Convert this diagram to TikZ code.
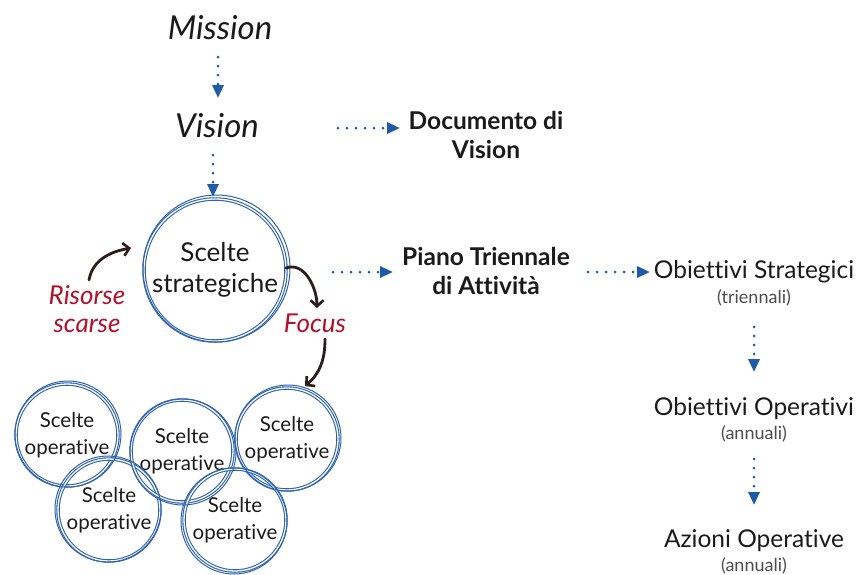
\documentclass[tikz,border=0pt]{standalone}
\usepackage{fontspec}
\setmainfont{Lato}[Ligatures=CommonOff]
\usetikzlibrary{arrows.meta}
\definecolor{cblue}{HTML}{1F5AA6}
\definecolor{cring}{HTML}{2E63AC}
\definecolor{cred}{HTML}{B3102A}
\definecolor{cdark}{HTML}{2B1E1C}
\definecolor{ctext}{HTML}{1A1A1A}
\tikzset{
  darr/.style={cblue, line width=3pt, line cap=round, dash pattern=on 0pt off 9pt,
    -{Triangle[length=13pt,width=11pt]}},
  harr/.style={cdark, line width=2.8pt, line cap=round, -{Straight Barb[length=6pt,width=13pt,line width=2.6pt]}},
  lbl/.style={inner sep=0pt, align=center, text=ctext},
  big/.style={lbl, font=\fontsize{33}{36}\selectfont\itshape},
  bold/.style={lbl, font=\fontsize{24.5}{29}\selectfont\bfseries},
  reg/.style={lbl, font=\fontsize{24.5}{28}\selectfont},
  small/.style={lbl, font=\fontsize{18}{20}\selectfont, text=black!70},
  redt/.style={lbl, text=cred, font=\fontsize{26}{28}\selectfont\itshape},
  ring/.style={circle, draw=cring, line width=1.1pt, double=white, double distance=1.3pt, align=center, inner sep=0pt, text=ctext},
}
\begin{document}
\begin{tikzpicture}[x=1pt,y=-1pt]
\useasboundingbox (0,0) rectangle (859,574);

% top column
\node[big] (mission) at (220,28) {Mission};
\node[big] (vision) at (217,126) {Vision};

% strategic circle
\node[ring, minimum size=142pt, font=\fontsize{26}{31}\selectfont] (strat) at (215,270) {Scelte\\strategiche};
\draw[cring, line width=1pt] (216.5,268.5) circle (73.5);

\coordinate (m1) at (218,57);
\coordinate (v0) at (218,98);
\draw[darr] (m1) -- (v0);
\coordinate (v1) at (213,155);
\coordinate (s0) at (213,197);
\draw[darr] (v1) -- (s0);

% right side texts
\node[bold] (doc) at (486,135) {Documento di\\Vision};
\node[bold] (piano) at (486,271) {Piano Triennale\\di Attività};
\node[reg] (ostr) at (754,272) {Obiettivi Strategici};
\node[small] (ostrs) at (754,298) {(triennali)};
\node[reg] (oop) at (754,409) {Obiettivi Operativi};
\node[small] (oops) at (754,434) {(annuali)};
\node[reg] (az) at (754,541) {Azioni Operative};
\node[small] (azs) at (754,566) {(annuali)};

\coordinate (d0) at (338,128);
\coordinate (d1) at (400,128);
\draw[darr] (d0) -- (d1);
\coordinate (p0) at (333,272);
\coordinate (p1) at (393,272);
\draw[darr] (p0) -- (p1);
\coordinate (o0) at (588,272);
\coordinate (o1) at (650,272);
\draw[darr] (o0) -- (o1);
\coordinate (t0) at (754,327);
\coordinate (t1) at (754,372);
\draw[darr] (t0) -- (t1);
\coordinate (u0) at (754,459);
\coordinate (u1) at (754,505);
\draw[darr] (u0) -- (u1);

% red labels
\node[redt] (ris) at (87,309) {Risorse\\scarse};
\node[redt] (focus) at (315,323) {Focus};

\coordinate (r0) at (89,280);
\coordinate (r1) at (131,248);
\draw[harr] (r0) to[out=80, in=190] (r1);
\coordinate (f0) at (286,268);
\coordinate (f1) at (317,308);
\draw[harr] (f0) to[out=20, in=90] (f1);
\coordinate (g0) at (325,339);
\coordinate (g1) at (305,386);
\draw[harr] (g0) to[out=-90, in=40] (g1);

% operative circles
\tikzset{op/.style={ring, minimum size=102pt, font=\fontsize{20.5}{27}\selectfont}}
\node[op] (c1) at (67,435) {Scelte\\operative};
\node[op] (c2) at (109,510) {Scelte\\operative};
\node[op] (c3) at (182,451) {Scelte\\operative};
\node[op] (c4) at (287,439) {Scelte\\operative};
\node[op] (c5) at (235,520) {Scelte\\operative};
\foreach \n/\dx/\dy in {c1/1/1, c2/-1/1, c3/1/-1, c4/1/1, c5/-1/-1}
  \draw[cring, line width=1pt] ([xshift=\dx pt, yshift=\dy pt]\n.center) circle (53);
\end{tikzpicture}
\end{document}
